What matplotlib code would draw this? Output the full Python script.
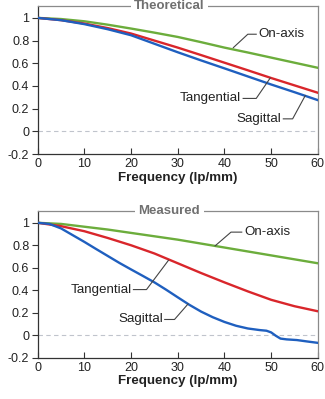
import matplotlib
matplotlib.use("Agg")
import matplotlib.pyplot as plt

plt.rcParams['font.family'] = ['Liberation Sans', 'DejaVu Sans']

# Theoretical panel
th_freq = [0, 5, 10, 15, 20, 25, 30, 35, 40, 45, 50, 55, 60]
th_onaxis = [1.0, 0.99, 0.97, 0.94, 0.906, 0.87, 0.832, 0.786, 0.738, 0.695, 0.65, 0.605, 0.56]
th_tang = [1.0, 0.98, 0.95, 0.91, 0.862, 0.80, 0.738, 0.672, 0.605, 0.538, 0.47, 0.405, 0.34]
th_sag = [1.0, 0.98, 0.945, 0.90, 0.847, 0.772, 0.697, 0.625, 0.555, 0.484, 0.413, 0.345, 0.275]

# Measured panel
me_freq_g = [0, 5, 10, 15, 20, 25, 30, 35, 40, 45, 50, 55, 60]
me_onaxis = [1.0, 0.99, 0.965, 0.94, 0.91, 0.88, 0.85, 0.815, 0.78, 0.745, 0.71, 0.675, 0.64]
me_tang = [1.0, 0.97, 0.925, 0.865, 0.80, 0.727, 0.64, 0.553, 0.47, 0.39, 0.315, 0.258, 0.213]
me_freq_s = [0, 2.5, 5, 7.5, 10, 12.5, 15, 17.5, 20, 22.5, 25, 27.5, 30, 32.5, 35, 37.5,
             40, 42.5, 45, 47.5, 49, 50, 51, 52, 53.3, 55.5, 57.6, 60]
me_sag = [1.0, 0.99, 0.95, 0.89, 0.83, 0.767, 0.705, 0.643, 0.585, 0.528, 0.47, 0.405, 0.337,
          0.27, 0.21, 0.16, 0.118, 0.084, 0.06, 0.046, 0.04, 0.025, -0.005, -0.03,
          -0.037, -0.043, -0.055, -0.068]

yticks = [-0.2, 0, 0.2, 0.4, 0.6, 0.8, 1]
ytick_labels = ['-0.2', '0', '0.2', '0.4', '0.6', '0.8', '1']
xticks = [0, 10, 20, 30, 40, 50, 60]

GREEN = '#6cad3c'
RED = '#d9262b'
BLUE = '#1f5fbf'
DARK = '#333333'
LIGHT = '#8a8a8a'

fig = plt.figure(figsize=(3.25, 3.99), dpi=100)
ax1 = fig.add_axes([0.116, 0.614, 0.862, 0.371])
ax2 = fig.add_axes([0.116, 0.1035, 0.862, 0.3677])


def style(ax, title):
    ax.set_xlim(0, 60)
    ax.set_ylim(-0.2, 1.105)
    ax.set_yticks(yticks)
    ax.set_yticklabels(ytick_labels)
    ax.set_xticks(xticks)
    ax.tick_params(axis='x', direction='in', length=4, width=0.8, color=DARK,
                   labelsize=9, labelcolor='#222222', pad=3)
    ax.tick_params(axis='y', direction='out', length=4, width=0.8, color=DARK,
                   labelsize=9, labelcolor='#222222', pad=2)
    ax.spines['left'].set_color(DARK)
    ax.spines['bottom'].set_color(DARK)
    ax.spines['top'].set_color(LIGHT)
    ax.spines['right'].set_color(LIGHT)
    for s in ax.spines.values():
        s.set_linewidth(0.9)
    ax.axhline(0, color='#c0c4cc', lw=0.8, ls=(0, (4, 3)), zorder=1)
    ax.set_xlabel('Frequency (lp/mm)', fontsize=9.6, fontweight='bold',
                  color='#222222', labelpad=1)
    ax.text(0.47, 1.0, title, transform=ax.transAxes, ha='center', va='center',
            fontsize=9.5, fontweight='bold', color='#707070',
            bbox=dict(facecolor='white', edgecolor='none', pad=2.5))


def leader(ax, text, text_xy, pts, ha):
    ax.text(text_xy[0], text_xy[1], text, ha=ha, va='center', fontsize=9.6,
            color='#222222')
    xs = [p[0] for p in pts]
    ys = [p[1] for p in pts]
    ax.plot(xs, ys, color='#444444', lw=0.8, zorder=4)


style(ax1, 'Theoretical')
ax1.plot(th_freq, th_onaxis, color=GREEN, lw=1.7, zorder=3)
ax1.plot(th_freq, th_tang, color=RED, lw=1.7, zorder=3)
ax1.plot(th_freq, th_sag, color=BLUE, lw=1.7, zorder=3)
leader(ax1, 'On-axis', (47.3, 0.856), [(46.8, 0.856), (45.0, 0.856), (41.9, 0.738)], 'left')
leader(ax1, 'Tangential', (43.6, 0.29), [(44.0, 0.29), (46.8, 0.29), (49.8, 0.47)], 'right')
leader(ax1, 'Sagittal', (52.2, 0.11), [(52.6, 0.11), (54.6, 0.11), (57.3, 0.315)], 'right')

style(ax2, 'Measured')
ax2.plot(me_freq_g, me_onaxis, color=GREEN, lw=1.7, zorder=3)
ax2.plot(me_freq_g, me_tang, color=RED, lw=1.7, zorder=3)
ax2.plot(me_freq_s, me_sag, color=BLUE, lw=1.7, zorder=3)
leader(ax2, 'On-axis', (44.2, 0.917), [(43.7, 0.917), (41.4, 0.917), (38.0, 0.795)], 'left')
leader(ax2, 'Tangential', (20.1, 0.406), [(20.5, 0.406), (23.3, 0.406), (28.0, 0.666)], 'right')
leader(ax2, 'Sagittal', (26.8, 0.14), [(27.2, 0.14), (29.3, 0.14), (32.2, 0.278)], 'right')

fig.savefig('out.png', dpi=100)
